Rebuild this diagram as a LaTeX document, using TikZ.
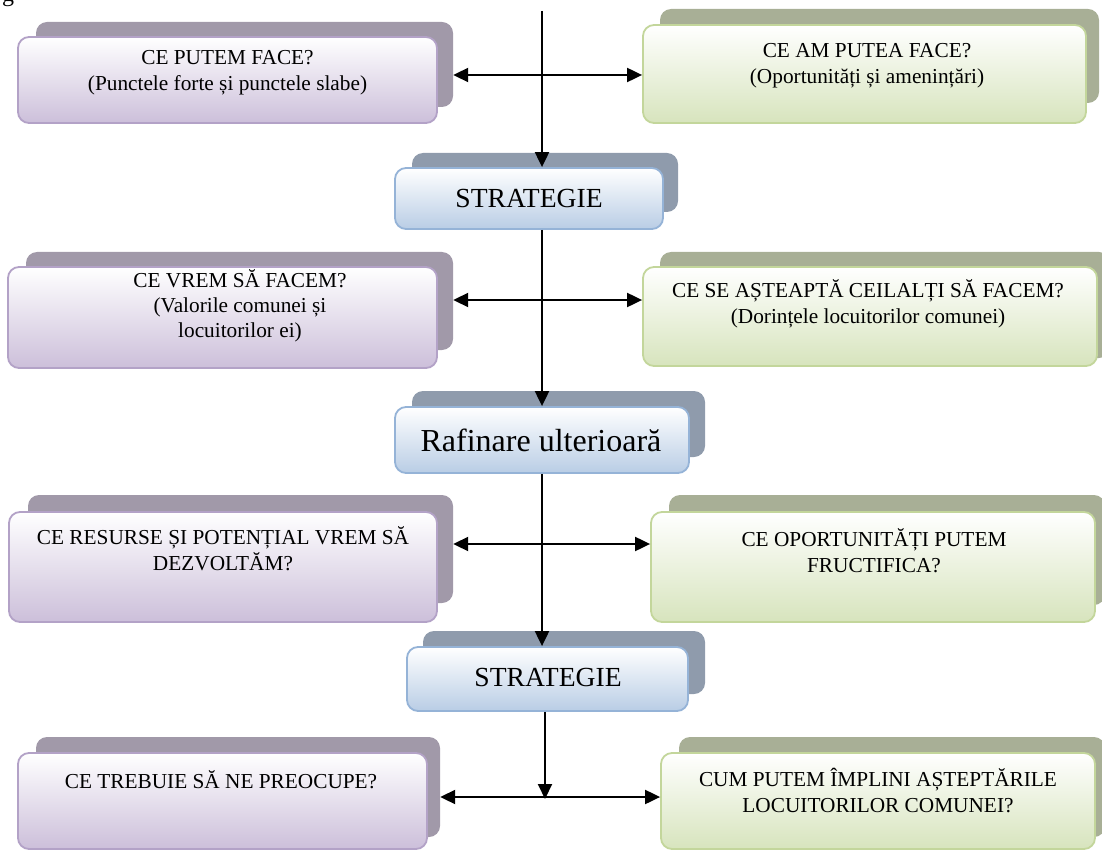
\documentclass[tikz,border=0pt]{standalone}
\usepackage{fontspec}
\setmainfont{Liberation Serif}
\usetikzlibrary{arrows.meta}
\definecolor{pshadow}{HTML}{A199A9}
\definecolor{pborder}{HTML}{B3A2C7}
\definecolor{pfill}{HTML}{CCBFDA}
\definecolor{gshadow}{HTML}{A8AF96}
\definecolor{gborder}{HTML}{C3D69B}
\definecolor{gfill}{HTML}{D7E4BD}
\definecolor{bshadow}{HTML}{8F9BAC}
\definecolor{bborder}{HTML}{95B3D7}
\definecolor{bfill}{HTML}{B9CDE5}
\tikzset{
  shad/.style={rounded corners=11pt, inner sep=0pt, draw=none},
  pshad/.style={shad, fill=pshadow},
  gshad/.style={shad, fill=gshadow},
  bshad/.style={shad, fill=bshadow},
  front/.style={rounded corners=11pt, inner sep=0pt, line width=1.8pt},
  pfront/.style={front, draw=pborder, top color=white, bottom color=pfill},
  gfront/.style={front, draw=gborder, top color=white, bottom color=gfill},
  bfront/.style={front, draw=bborder, top color=white, bottom color=bfill},
  txt/.style={align=center, inner sep=0pt, font=\fontsize{21.3}{26}\selectfont},
  btxt/.style={inner sep=0pt, font=\fontsize{27.6}{32}\selectfont},
  rtxt/.style={inner sep=0pt, font=\fontsize{32}{38}\selectfont},
  arr/.style={line width=2pt, -{Triangle[length=15pt,width=14pt]}},
  darr/.style={line width=2pt, {Triangle[length=15pt,width=14pt]}-{Triangle[length=15pt,width=14pt]}}
}
\begin{document}
\begin{tikzpicture}[x=1pt,y=-1pt]
\useasboundingbox (0,0) rectangle (1102,850);
\node[anchor=base, font=\fontsize{24}{28}\selectfont] (gg) at (8,2) {g};
% row 1
\node[pshad, minimum width=417pt, minimum height=85pt] (l1s) at (244.5,64.5) {};
\node[pfront, minimum width=419pt, minimum height=86pt] (l1) at (227.5,80) {};
\node[txt] (l1t) at (227.5,73) {CE PUTEM FACE?\\(Punctele forte și punctele slabe)};
\node[gshad, minimum width=439pt, minimum height=94pt] (r1s) at (879.5,56) {};
\node[gfront, minimum width=443pt, minimum height=98pt] (r1) at (864.5,74) {};
\node[txt] (r1t) at (867,66) {CE AM PUTEA FACE?\\(Oportunități și amenințări)};
% strategie 1
\node[bshad, minimum width=266pt, minimum height=59pt] (s1s) at (545,182.5) {};
\node[bfront, minimum width=268pt, minimum height=61pt] (s1) at (529,198.5) {};
\node[btxt] (s1t) at (529,198) {STRATEGIE};
% row 2
\node[pshad, minimum width=427pt, minimum height=98pt] (l2s) at (239.5,301) {};
\node[pfront, minimum width=429pt, minimum height=101pt] (l2) at (222.5,317.5) {};
\node[txt, font=\fontsize{21.3}{25}\selectfont] (l2t) at (240,306) {CE VREM SĂ FACEM?\\(Valorile comunei și\\locuitorilor ei)};
\node[gshad, minimum width=450pt, minimum height=106pt] (r2s) at (885,305) {};
\node[gfront, minimum width=454pt, minimum height=99pt] (r2) at (870,316.5) {};
\node[txt] (r2t) at (868,304) {CE SE AȘTEAPTĂ CEILALȚI SĂ FACEM?\\(Dorințele locuitorilor comunei)};
% rafinare
\node[bshad, minimum width=293pt, minimum height=66pt] (rafs) at (558.5,424) {};
\node[bfront, minimum width=294pt, minimum height=66pt] (raf) at (542,440) {};
\node[rtxt] (raft) at (541,440) {Rafinare ulterioară};
% row 3
\node[pshad, minimum width=425pt, minimum height=108pt] (l3s) at (240.5,549) {};
\node[pfront, minimum width=428pt, minimum height=110pt] (l3) at (223,567) {};
\node[txt] (l3t) at (223,549) {CE RESURSE ȘI POTENȚIAL VREM SĂ\\DEZVOLTĂM?};
\node[gshad, minimum width=436pt, minimum height=110pt] (r3s) at (887,550) {};
\node[gfront, minimum width=444pt, minimum height=110pt] (r3) at (873,567) {};
\node[txt] (r3t) at (874,551) {CE OPORTUNITĂȚI PUTEM\\FRUCTIFICA?};
% strategie 2
\node[bshad, minimum width=282pt, minimum height=63pt] (s2s) at (564,662.5) {};
\node[bfront, minimum width=281pt, minimum height=64pt] (s2) at (547.5,679) {};
\node[btxt] (s2t) at (548,677) {STRATEGIE};
% row 4
\node[pshad, minimum width=404pt, minimum height=100pt] (l4s) at (238,787) {};
\node[pfront, minimum width=409pt, minimum height=96pt] (l4) at (222.5,801) {};
\node[txt] (l4t) at (221,780) {CE TREBUIE SĂ NE PREOCUPE?};
\node[gshad, minimum width=426pt, minimum height=100pt] (r4s) at (892,787) {};
\node[gfront, minimum width=434pt, minimum height=96pt] (r4) at (878,801) {};
\node[txt] (r4t) at (878,790) {CUM PUTEM ÎMPLINI AȘTEPTĂRILE\\LOCUITORILOR COMUNEI?};
% connectors
\coordinate (top) at (542,11);
\coordinate (h1) at (543,75);
\coordinate (h2) at (543,300);
\coordinate (h3) at (543,544);
\coordinate (h4) at (545,797);
\draw[arr] (top) -- (top |- s1.north);
\draw[arr] (raf.north |- s1.south) -- (raf.north);
\draw[arr] (raf.south) -- (raf.south |- s2.north);
\draw[arr] (h4 |- s2.south) -- ([yshift=-2pt]h4);
\draw[darr] (l1s.east |- h1) -- (r1.west |- h1);
\draw[darr] (l2s.east |- h2) -- (r2.west |- h2);
\draw[darr] (l3s.east |- h3) -- (r3.west |- h3);
\draw[darr] (l4s.east |- h4) -- (r4.west |- h4);
\end{tikzpicture}
\end{document}
